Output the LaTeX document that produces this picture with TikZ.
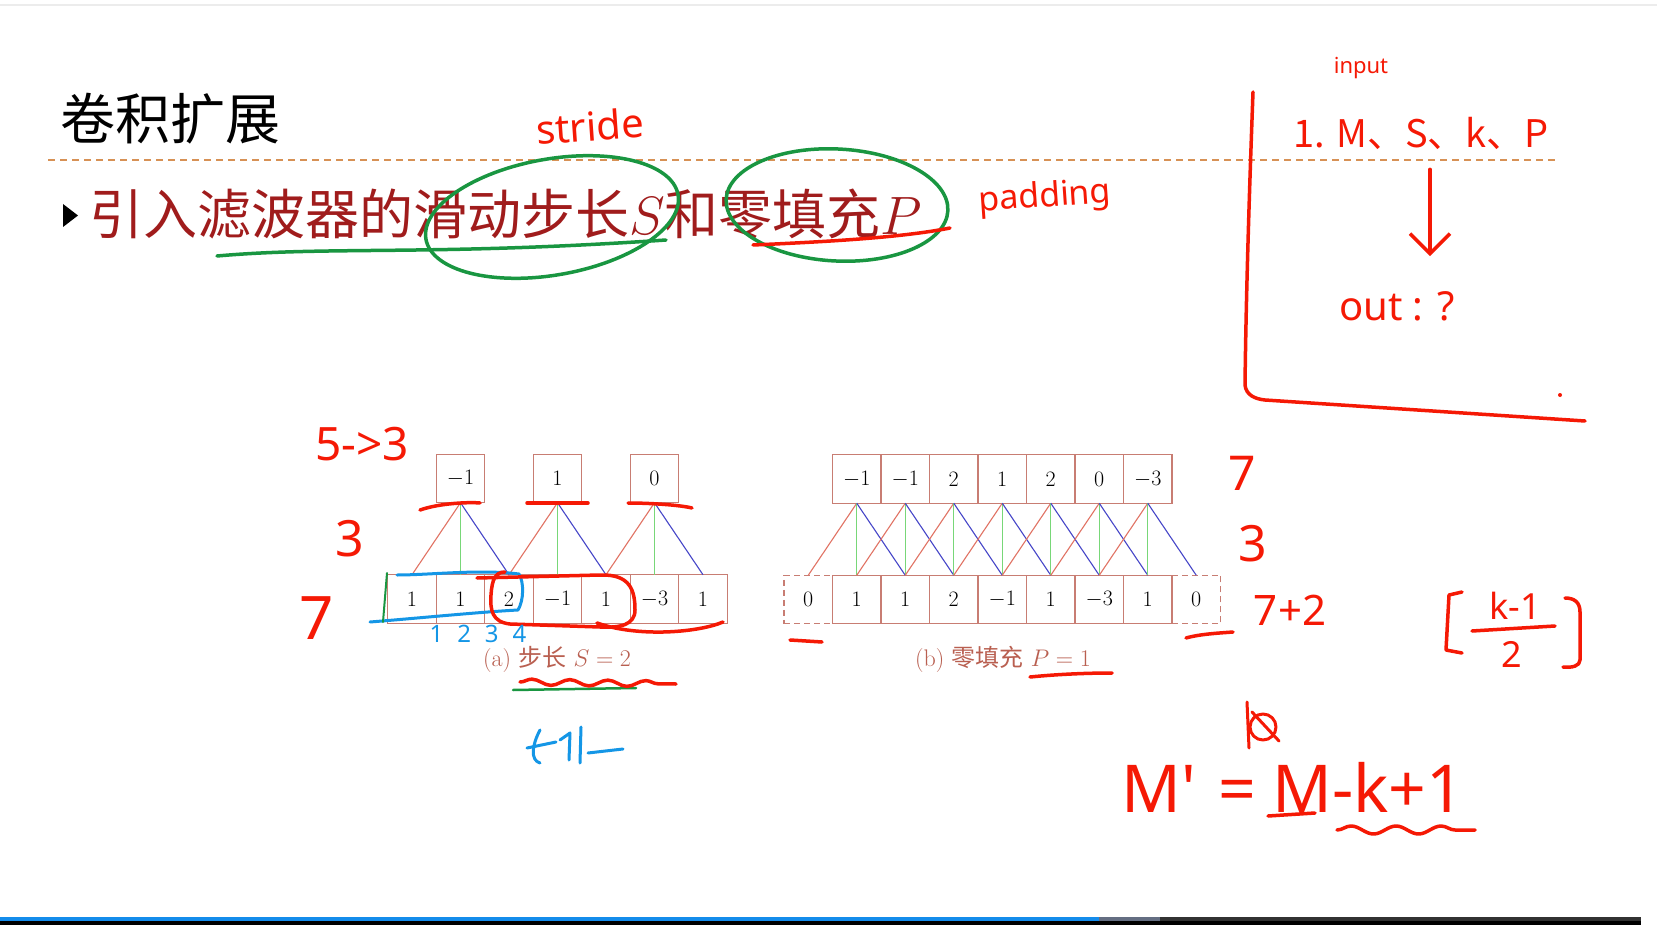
\RequirePackage{fix-cm}
\documentclass[tikz,border=0pt]{standalone}
\usepackage{amsmath}
\usepackage{fontspec}
\usepackage{tikz}
\usetikzlibrary{arrows.meta,positioning,decorations.pathmorphing}
\newfontfamily\cjk{Noto Sans CJK SC}
\newfontfamily\handfont{Noto Sans}
\definecolor{slidered}{RGB}{160,28,28}
\definecolor{cellred}{RGB}{200,125,115}
\definecolor{capred}{RGB}{185,95,80}
\definecolor{linered}{RGB}{225,115,100}
\definecolor{linegreen}{RGB}{120,215,120}
\definecolor{lineblue}{RGB}{70,70,200}
\definecolor{handred}{RGB}{245,25,5}
\definecolor{handgreen}{RGB}{25,150,65}
\definecolor{handblue}{RGB}{20,150,230}
\definecolor{ruleorange}{RGB}{215,145,85}
\definecolor{barblue}{RGB}{20,140,235}
\definecolor{bargray}{RGB}{100,110,130}
\definecolor{bardark}{RGB}{50,50,50}

\begin{document}
\begin{tikzpicture}[
  x=1pt, y=-1pt,
  cell/.style={draw=cellred, line width=1.1pt, minimum size=48.5pt, inner sep=0pt, outer sep=0pt, font=\fontsize{22}{26}\selectfont},
  padcell/.style={cell, dash pattern=on 6pt off 4pt},
  captext/.style={text=capred, font=\fontsize{24}{28}\selectfont},
  redline/.style={draw=linered, line width=1.1pt},
  greenline/.style={draw=linegreen, line width=1.1pt},
  blueline/.style={draw=lineblue, line width=1.1pt},
  hand/.style={draw=handred, line width=3.5pt, line cap=round, line join=round},
  handg/.style={hand, draw=handgreen},
  handb/.style={hand, draw=handblue, line width=3pt},
  handtext/.style={text=handred, inner sep=0pt, font=\handfont\fontsize{#1}{#1}\selectfont},
  handtext/.default=40,
  wavy/.style={decorate, decoration={snake, amplitude=3pt, segment length=38pt}}
]
\useasboundingbox[fill=white] (0,0) rectangle (1657,925);

% slide
\draw[gray!15, line width=1.5pt] (0,5) -- (1657,5);
\node[font=\cjk\fontsize{55}{60}\selectfont] (title) at (170,119) {卷积扩展};
\draw[ruleorange, line width=1.5pt, dash pattern=on 7pt off 5pt] (48,160) -- (1558,160);
\fill (63,204) -- (78,215.5) -- (63,227) -- cycle;
\node[anchor=west, inner sep=0pt, text=slidered, font=\cjk\fontsize{54}{60}\selectfont] (point) at (89,214) {引入滤波器的滑动步长$S$和零填充$P$};

% (a) stride
\node[cell] (a1) at (412,599) {$1$};
\node[cell, right=0pt of a1] (a2) {$1$};
\node[cell, right=0pt of a2] (a3) {$2$};
\node[cell, right=0pt of a3] (a4) {$-1$};
\node[cell, right=0pt of a4] (a5) {$1$};
\node[cell, right=0pt of a5] (a6) {$-3$};
\node[cell, right=0pt of a6] (a7) {$1$};
\node[cell, above=72pt of a2] (ta1) {$-1$};
\node[cell, above=72pt of a4] (ta2) {$1$};
\node[cell, above=72pt of a6] (ta3) {$0$};
\foreach \t/\l/\m/\r in {ta1/a1/a2/a3, ta2/a3/a4/a5, ta3/a5/a6/a7} {
  \draw[redline] (\t.south) -- (\l.north);
  \draw[greenline] (\t.south) -- (\m.north);
  \draw[blueline] (\t.south) -- (\r.north);
}
\node[captext] (capa) at (557,659) {(a) {\cjk 步长} $S=2$};

% (b) zero padding
\node[padcell] (b0) at (808.25,599.5) {$0$};
\node[cell, right=0pt of b0] (b1) {$1$};
\node[cell, right=0pt of b1] (b2) {$1$};
\node[cell, right=0pt of b2] (b3) {$2$};
\node[cell, right=0pt of b3] (b4) {$-1$};
\node[cell, right=0pt of b4] (b5) {$1$};
\node[cell, right=0pt of b5] (b6) {$-3$};
\node[cell, right=0pt of b6] (b7) {$1$};
\node[padcell, right=0pt of b7] (b8) {$0$};
\node[cell, above=72pt of b1] (tb1) {$-1$};
\node[cell, above=72pt of b2] (tb2) {$-1$};
\node[cell, above=72pt of b3] (tb3) {$2$};
\node[cell, above=72pt of b4] (tb4) {$1$};
\node[cell, above=72pt of b5] (tb5) {$2$};
\node[cell, above=72pt of b6] (tb6) {$0$};
\node[cell, above=72pt of b7] (tb7) {$-3$};
\foreach \i in {1,...,7} {
  \pgfmathtruncatemacro\lft{\i-1}
  \pgfmathtruncatemacro\rgt{\i+1}
  \draw[redline] (tb\i.south) -- (b\lft.north);
  \draw[greenline] (tb\i.south) -- (b\i.north);
  \draw[blueline] (tb\i.south) -- (b\rgt.north);
}
\node[captext] (capb) at (1003,659) {(b) {\cjk 零填充} $P=1$};

% handwriting on the title line
\node[handtext=40, rotate=4] (stride) at (590,126) {stride};
\draw[handg, rotate around={10:(552,217)}] (552,217) ellipse [x radius=128pt, y radius=58pt];
\draw[handg, rotate around={-3:(837,205)}] (837,205) ellipse [x radius=111pt, y radius=56pt];
\draw[handg] (217,256) .. controls (330,246) and (430,256) .. (666,240);
\draw[hand] (753,245) .. controls (820,242) and (900,238) .. (950,228);
\node[handtext=34, rotate=4] (padding) at (1045,198) {padding};

% handwriting, right panel
\draw[hand] (1253,92) .. controls (1249,200) and (1246,300) .. (1245,385) .. controls (1246,395) and (1255,399) .. (1265,400) -- (1585,421);
\fill[handred] (1560,395) circle (2pt);
\node[handtext=22] (input) at (1361,68) {input};
\node[handtext, font=\cjk\fontsize{38}{40}\selectfont] (mskp) at (1421,133) {1. M、S、k、P};
\node[handtext=40] (outq) at (1397,306) {out : ?};
\draw[hand, -{Straight Barb[length=20pt, width=40pt]}] ([xshift=9pt, yshift=-20pt]mskp.south) -- ([xshift=33pt, yshift=35pt]outq.north);

% handwriting around (a)
\node[handtext=46] (sizea) at (362,444) {5->3};
\node[handtext=50] (ka) at (350,539) {3};
\node[handtext=60] (ma) at (317,618) {7};
\draw[hand] (420,510) .. controls (440,503) and (470,502) .. (480,503);
\draw[hand] (527,503) -- (588,503);
\draw[hand] (628,503) .. controls (650,503) and (680,505) .. (692,508);
\draw[handb] (370,622) .. controls (420,618) and (480,612) .. (518,610) .. controls (524,600) and (524,582) .. (519,574) .. controls (480,569) and (430,575) .. (397,575);
\draw[handg, line width=2pt] (387,573) -- (383,622);
\draw[hand] (477,578) -- (600,575) .. controls (630,574) and (635,590) .. (635,610) .. controls (635,625) and (620,628) .. (600,627) -- (510,624) .. controls (492,622) and (490,610) .. (491,595) .. controls (492,580) and (495,572) .. (505,572);
\draw[hand] (597,623) .. controls (640,638) and (700,632) .. (723,622);
\node[text=handblue, inner sep=0pt, font=\handfont\fontsize{24}{24}\selectfont] (counta) at (478,634) {1\hspace{14pt}2\hspace{14pt}3\hspace{14pt}4};
\draw[handg, line width=2.5pt] (513,690) -- (636,688);
\draw[hand, wavy] (520,682) -- (676,684);
\draw[handb] (540,730) .. controls (532,745) and (530,760) .. (540,763);
\draw[handb] (527,748) -- (556,742);
\draw[handb] (560,740) -- (570,733) -- (569,760);
\draw[handb] (581,727) -- (580,763);
\draw[handb] (588,753) -- (623,749);

% handwriting around (b)
\node[handtext=48] (mb) at (1242,473) {7};
\node[handtext=50] (kb) at (1253,544) {3};
\node[handtext=42] (padb) at (1290,610) {7+2};
\draw[hand] (790,640) -- (822,642);
\draw[hand] (1186,638) .. controls (1200,634) and (1220,633) .. (1233,632);
\draw[hand] (1030,677) .. controls (1060,674) and (1090,673) .. (1112,673);

% formulas
\node[handtext=36] (fnum) at (1515,606) {k-1};
\node[handtext=36] (fden) at (1512,654) {2};
\draw[hand] (1472,631) -- (1555,626);
\draw[hand] (1462,592) -- (1449,595) -- (1446,650) -- (1462,653);
\draw[hand] (1565,598) .. controls (1574,598) and (1580,602) .. (1580,612) -- (1580,660) .. controls (1580,666) and (1572,668) .. (1563,667);
\node[handtext=66] (outsize) at (1293,787) {M'\hspace{22pt}=\hspace{16pt}M-k+1};
\draw[hand, line width=3pt] (1263,727) circle (13pt);
\draw[hand, line width=3pt] (1247,702) -- (1249,748);
\draw[hand, line width=3pt] (1252,712) -- (1279,741);
\draw[hand] (1268,816) -- (1315,813);
\draw[hand, decorate, decoration={snake, amplitude=4pt, segment length=45pt}] (1337,830) -- (1475,830);

% player bar
\fill[black] (0,921) rectangle (1641,925);
\fill[barblue] (0,917) rectangle (1099,921);
\fill[bargray] (1099,917) rectangle (1160,921);
\fill[bardark] (1160,917) rectangle (1641,921);
\end{tikzpicture}
\end{document}
